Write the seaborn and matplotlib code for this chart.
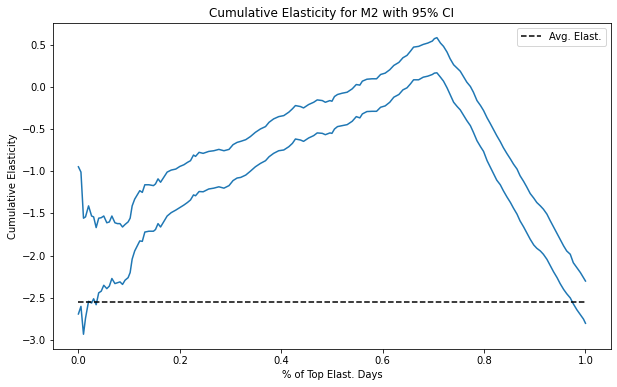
import numpy as np
import pandas as pd
import matplotlib
matplotlib.use("Agg")
import matplotlib.pyplot as plt
import seaborn as sns

# ---------------- DATA ----------------
pct = [0.000, 0.005, 0.010, 0.014, 0.020, 0.026, 0.030, 0.035, 0.040, 0.045,
       0.050, 0.056, 0.061, 0.066, 0.072, 0.077, 0.082, 0.087, 0.092, 0.098,
       0.102, 0.106, 0.111, 0.116, 0.121, 0.126, 0.131, 0.139, 0.148, 0.152,
       0.157, 0.162, 0.169, 0.175, 0.183, 0.192, 0.200, 0.208, 0.215, 0.221,
       0.227, 0.231, 0.238, 0.246, 0.257, 0.267, 0.277, 0.287, 0.297, 0.305,
       0.313, 0.320, 0.330, 0.339, 0.349, 0.359, 0.369, 0.376, 0.385, 0.395,
       0.405, 0.415, 0.422, 0.428, 0.438, 0.444, 0.454, 0.464, 0.471, 0.481,
       0.487, 0.496, 0.500, 0.505, 0.511, 0.520, 0.530, 0.540, 0.548, 0.555,
       0.560, 0.569, 0.579, 0.588, 0.596, 0.605, 0.614, 0.622, 0.632, 0.640,
       0.648, 0.655, 0.661, 0.671, 0.680, 0.689, 0.698, 0.702, 0.707, 0.714,
       0.720, 0.727, 0.733, 0.740, 0.747, 0.753, 0.760, 0.766, 0.773, 0.779,
       0.786, 0.793, 0.799, 0.806, 0.812, 0.819, 0.825, 0.832, 0.838, 0.845,
       0.852, 0.858, 0.865, 0.871, 0.878, 0.884, 0.891, 0.898, 0.904, 0.911,
       0.917, 0.924, 0.930, 0.937, 0.944, 0.950, 0.957, 0.963, 0.970, 0.976,
       0.983, 0.990, 0.996, 1.000]

upper = [-0.947, -1.010, -1.556, -1.540, -1.410, -1.530, -1.540, -1.667, -1.556, -1.550,
         -1.530, -1.610, -1.600, -1.530, -1.610, -1.620, -1.620, -1.660, -1.630, -1.600,
         -1.556, -1.410, -1.330, -1.280, -1.230, -1.250, -1.160, -1.160, -1.170, -1.150,
         -1.090, -1.130, -1.065, -1.010, -0.986, -0.974, -0.943, -0.923, -0.895, -0.875,
         -0.808, -0.824, -0.776, -0.788, -0.765, -0.757, -0.741, -0.757, -0.741, -0.685,
         -0.658, -0.646, -0.626, -0.590, -0.539, -0.499, -0.471, -0.420, -0.380, -0.353,
         -0.341, -0.300, -0.261, -0.222, -0.234, -0.250, -0.210, -0.183, -0.155, -0.163,
         -0.183, -0.163, -0.171, -0.115, -0.091, -0.076, -0.064, -0.024, 0.027, 0.020,
         0.067, 0.090, 0.095, 0.095, 0.146, 0.162, 0.202, 0.253, 0.289, 0.344,
         0.372, 0.423, 0.470, 0.479, 0.502, 0.518, 0.542, 0.570, 0.582, 0.518,
         0.479, 0.411, 0.333, 0.261, 0.221, 0.185, 0.114, 0.055, 0.004, -0.064,
         -0.163, -0.222, -0.281, -0.368, -0.432, -0.511, -0.578, -0.650, -0.720, -0.790,
         -0.855, -0.915, -0.974, -1.053, -1.120, -1.184, -1.264, -1.318, -1.370, -1.410,
         -1.449, -1.508, -1.580, -1.659, -1.739, -1.805, -1.885, -1.944, -1.983, -2.083,
         -2.142, -2.200, -2.260, -2.300]

lower = [-2.690, -2.600, -2.930, -2.740, -2.540, -2.560, -2.510, -2.580, -2.440, -2.420,
         -2.350, -2.390, -2.360, -2.270, -2.330, -2.320, -2.310, -2.340, -2.290, -2.260,
         -2.200, -2.040, -1.944, -1.885, -1.825, -1.830, -1.720, -1.710, -1.710, -1.690,
         -1.620, -1.660, -1.590, -1.530, -1.490, -1.460, -1.430, -1.400, -1.370, -1.340,
         -1.280, -1.290, -1.240, -1.243, -1.210, -1.200, -1.184, -1.200, -1.170, -1.110,
         -1.080, -1.073, -1.045, -1.000, -0.947, -0.907, -0.875, -0.828, -0.788, -0.757,
         -0.748, -0.709, -0.670, -0.618, -0.630, -0.646, -0.606, -0.578, -0.546, -0.551,
         -0.567, -0.546, -0.551, -0.500, -0.471, -0.460, -0.448, -0.408, -0.353, -0.368,
         -0.321, -0.293, -0.290, -0.290, -0.242, -0.226, -0.183, -0.123, -0.091, -0.036,
         -0.012, 0.036, 0.083, 0.083, 0.114, 0.126, 0.146, 0.162, 0.166, 0.114,
         0.067, -0.012, -0.091, -0.183, -0.234, -0.273, -0.341, -0.400, -0.460, -0.539,
         -0.638, -0.709, -0.765, -0.875, -0.947, -1.033, -1.105, -1.160, -1.230, -1.303,
         -1.370, -1.437, -1.508, -1.588, -1.659, -1.727, -1.805, -1.873, -1.912, -1.944,
         -1.983, -2.043, -2.110, -2.190, -2.260, -2.330, -2.400, -2.450, -2.500, -2.570,
         -2.640, -2.700, -2.750, -2.800]

avg_elast = -2.55

df = pd.DataFrame({"pct": pct, "upper": upper, "lower": lower})

# ---------------- PLOT ----------------
fig, ax = plt.subplots(figsize=(617 / 72, 387 / 72), dpi=72)
fig.subplots_adjust(left=0.086, right=0.990, top=0.941, bottom=0.098)

sns.lineplot(data=df, x="pct", y="upper", color="C0", ax=ax)
sns.lineplot(data=df, x="pct", y="lower", color="C0", ax=ax)
ax.hlines(avg_elast, df["pct"].min(), df["pct"].max(), colors="black",
          linestyles="--", label="Avg. Elast.")

ax.set_title("Cumulative Elasticity for M2 with 95% CI")
ax.set_xlabel("% of Top Elast. Days")
ax.set_ylabel("Cumulative Elasticity")
ax.legend(loc="upper right")

fig.savefig("out.png", dpi=72)
